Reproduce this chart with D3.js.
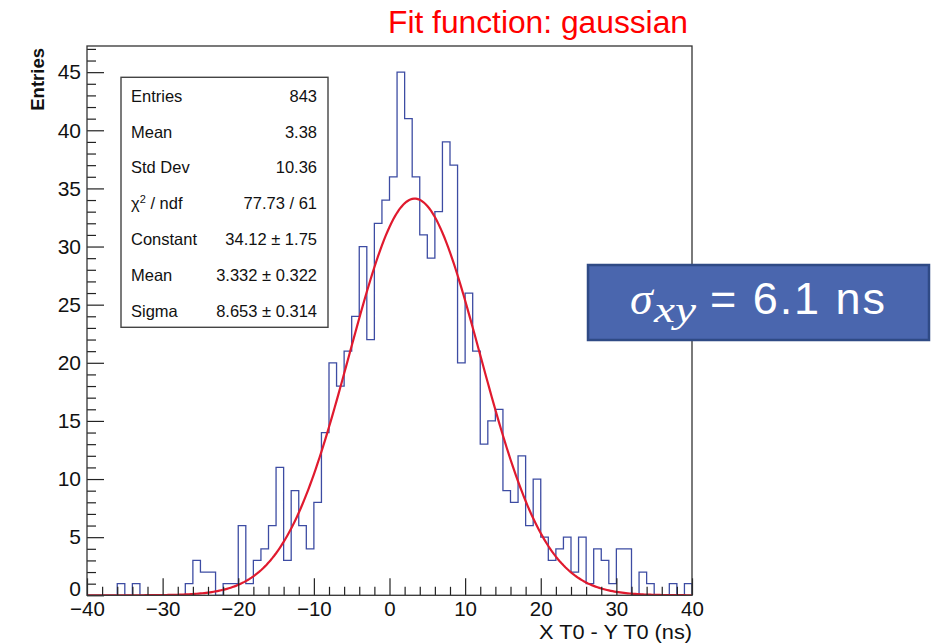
<!DOCTYPE html>
<html>
<head>
<meta charset="utf-8">
<script src="https://cdn.jsdelivr.net/npm/d3@7"></script>
<style>
  html, body { margin: 0; padding: 0; background: #fff; }
  svg { display: block; }
  text { font-family: "Liberation Sans", Arial, Helvetica, sans-serif; }
</style>
</head>
<body>
<svg id="chart" width="939" height="644"></svg>
<script>
// Histogram of X T0 - Y T0 (ns), 1 ns bins from -40 to 40
const xRange = [-40, 40];
const binWidth = 1;
const counts = [
  0, 0, 0, 0, 1, 0, 1, 0, 0, 0,
  0, 0, 0, 1, 3, 2, 2, 0, 1, 1,
  6, 1, 3, 4, 6, 11, 3, 9, 6, 4,
  8, 14, 20, 18, 21, 24, 30, 22, 32, 34,
  36, 45, 41, 36, 31, 29, 33, 39, 37, 20,
  26, 21, 13, 15, 16, 9, 8, 12, 6, 10,
  5, 3, 4, 5, 2, 5, 1, 4, 3, 1,
  4, 4, 0, 2, 1, 0, 0, 1, 0, 1
];

// Gaussian fit parameters
const fitConstant = 34.12;
const fitMean = 3.332;
const fitSigma = 8.653;

// Axis ticks
const xMajorTicks = [-40, -30, -20, -10, 0, 10, 20, 30, 40];
const yMajorTicks = [0, 5, 10, 15, 20, 25, 30, 35, 40, 45];

// Statistics box rows
const statLabels = ["Entries", "Mean", "Std Dev", "χ2 / ndf", "Constant", "Mean", "Sigma"];
const statValues = ["843", "3.38", "10.36", "77.73 / 61", "34.12 ± 1.75", "3.332 ± 0.322", "8.653 ± 0.314"];

const titleText = "Fit function: gaussian";
const xTitle = "X T0 - Y T0 (ns)";
const yTitle = "Entries";

const svg = d3.select("#chart");

const frame = { left: 87, right: 692, top: 46, bottom: 595.3 };
const yMax = 1.05 * d3.max(counts);

const x = d3.scaleLinear().domain(xRange).range([frame.left, frame.right]);
const y = d3.scaleLinear().domain([0, yMax]).range([frame.bottom, frame.top]);

svg.append("defs").append("clipPath").attr("id", "frameClip")
  .append("rect")
  .attr("x", frame.left).attr("y", frame.top)
  .attr("width", frame.right - frame.left).attr("height", frame.bottom - frame.top);

// Histogram outline (step contour)
const edges = counts.map((c, i) => xRange[0] + i * binWidth);
const stepPts = [[xRange[0], 0]];
counts.forEach((c, i) => stepPts.push([edges[i], c]));
stepPts.push([xRange[1], counts[counts.length - 1]]);
stepPts.push([xRange[1], 0]);

const stepLine = d3.line()
  .x(d => x(d[0]))
  .y(d => y(d[1]))
  .curve(d3.curveStepAfter);

svg.append("path")
  .attr("clip-path", "url(#frameClip)")
  .attr("d", stepLine(stepPts))
  .attr("fill", "none")
  .attr("stroke", "#3d4ca3")
  .attr("stroke-width", 1.3);

// Fitted gaussian curve
const gauss = v => fitConstant * Math.exp(-0.5 * Math.pow((v - fitMean) / fitSigma, 2));
const fitPts = d3.range(xRange[0], xRange[1] + 0.001, 0.25).map(v => [v, gauss(v)]);
svg.append("path")
  .attr("clip-path", "url(#frameClip)")
  .attr("d", d3.line().x(d => x(d[0])).y(d => y(d[1])).curve(d3.curveLinear)(fitPts))
  .attr("fill", "none")
  .attr("stroke", "#e01a2e")
  .attr("stroke-width", 2.2);

// Axes
const xMinor = d3.range(xRange[0], xRange[1] + 1, 2).filter(v => !xMajorTicks.includes(v));
const yMinor = d3.range(0, Math.floor(yMax) + 1, 1).filter(v => !yMajorTicks.includes(v));

const gxMinor = svg.append("g").attr("transform", `translate(0,${frame.bottom})`)
  .call(d3.axisBottom(x).tickValues(xMinor).tickSize(-8.5).tickFormat(""));
const gx = svg.append("g").attr("transform", `translate(0,${frame.bottom})`)
  .call(d3.axisBottom(x).tickValues(xMajorTicks).tickSize(-17).tickPadding(6));
const gyMinor = svg.append("g").attr("transform", `translate(${frame.left},0)`)
  .call(d3.axisLeft(y).tickValues(yMinor).tickSize(-9).tickFormat(""));
const gy = svg.append("g").attr("transform", `translate(${frame.left},0)`)
  .call(d3.axisLeft(y).tickValues(yMajorTicks).tickSize(-17).tickPadding(6));

[gxMinor, gx, gyMinor, gy].forEach(g => {
  g.select(".domain").remove();
  g.selectAll(".tick line").attr("stroke", "#222").attr("stroke-width", 1.2);
  g.selectAll(".tick text")
    .attr("fill", "#111")
    .style("font-family", "'Liberation Sans', Arial, sans-serif")
    .style("font-size", "21px");
});
gx.selectAll(".tick text").style("font-size", "20.5px");
// keep the zero label clear of the first x label
gy.selectAll(".tick text").filter(d => d === 0).attr("dy", "0em");

// Frame
svg.append("rect")
  .attr("x", frame.left).attr("y", frame.top)
  .attr("width", frame.right - frame.left).attr("height", frame.bottom - frame.top)
  .attr("fill", "none").attr("stroke", "#333").attr("stroke-width", 1.3);

// Axis titles
svg.append("text")
  .attr("x", frame.right).attr("y", 639)
  .attr("text-anchor", "end")
  .attr("textLength", 153)
  .attr("lengthAdjust", "spacingAndGlyphs")
  .style("font-size", "20px")
  .attr("fill", "#111")
  .text(xTitle);

svg.append("text")
  .attr("transform", `translate(44,${frame.top + 2}) rotate(-90)`)
  .attr("text-anchor", "end")
  .style("font-size", "18.5px")
  .style("font-weight", "bold")
  .attr("fill", "#111")
  .text(yTitle);

// Title
svg.append("text")
  .attr("x", 688).attr("y", 33)
  .attr("text-anchor", "end")
  .attr("textLength", 300)
  .attr("lengthAdjust", "spacingAndGlyphs")
  .style("font-size", "31px")
  .attr("fill", "#f00")
  .text(titleText);

// Statistics box
const box = { left: 121, top: 77.3, right: 328, bottom: 327.3 };
svg.append("rect")
  .attr("x", box.left).attr("y", box.top)
  .attr("width", box.right - box.left).attr("height", box.bottom - box.top)
  .attr("fill", "#fff").attr("stroke", "#444").attr("stroke-width", 1.4);

const rowStep = 35.8;
statLabels.forEach((lab, i) => {
  const by = 101.7 + i * rowStep;
  const t = svg.append("text")
    .attr("x", 131).attr("y", by)
    .style("font-size", "16.5px")
    .attr("fill", "#111");
  if (lab.startsWith("χ2")) {
    t.append("tspan").text("χ");
    t.append("tspan").attr("dy", -6).style("font-size", "11px").text("2");
    t.append("tspan").attr("dy", 6).text(" / ndf");
  } else {
    t.text(lab);
  }
  svg.append("text")
    .attr("x", 317).attr("y", by)
    .attr("text-anchor", "end")
    .style("font-size", "16.5px")
    .attr("fill", "#111")
    .text(statValues[i]);
});

// Resolution callout
const callout = svg.append("g");
callout.append("rect")
  .attr("x", 588).attr("y", 265)
  .attr("width", 341).attr("height", 75)
  .attr("fill", "#4a66ae")
  .attr("stroke", "#2f4a85")
  .attr("stroke-width", 2.5);

const serif = "'Liberation Serif', 'DejaVu Serif', serif";
callout.append("text")
  .attr("x", 630).attr("y", 314)
  .style("font-family", serif)
  .style("font-style", "italic")
  .style("font-size", "46px")
  .attr("fill", "#fff")
  .text("σ");
callout.append("text")
  .attr("x", 654).attr("y", 322)
  .attr("textLength", 42)
  .attr("lengthAdjust", "spacingAndGlyphs")
  .style("font-family", serif)
  .style("font-style", "italic")
  .style("font-size", "36px")
  .attr("fill", "#fff")
  .text("xy");
callout.append("text")
  .attr("x", 710).attr("y", 314)
  .attr("textLength", 175)
  .attr("lengthAdjust", "spacing")
  .style("font-size", "45px")
  .attr("fill", "#fff")
  .text("= 6.1 ns");
</script>
</body>
</html>
